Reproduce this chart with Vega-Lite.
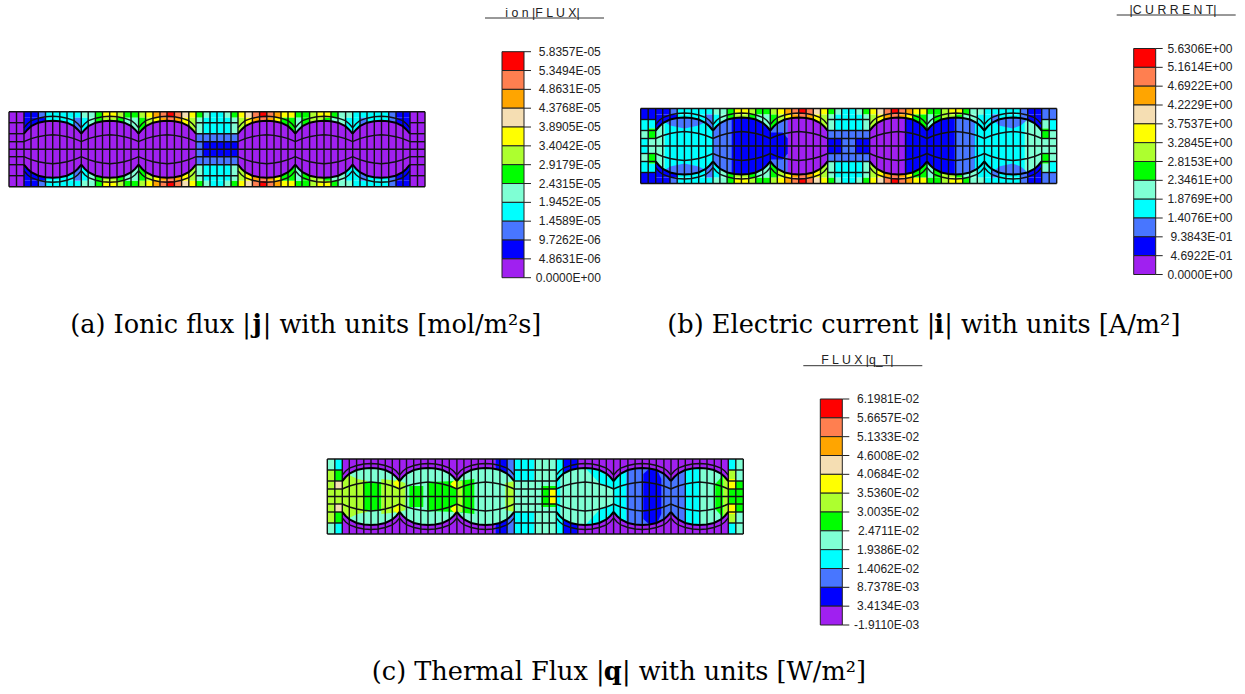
{"$schema":"https://vega.github.io/schema/vega-lite/v6.json","padding":0,"spacing":0,
"config":{"view":{"stroke":null},"axis":{"disable":true},"legend":{"disable":true},"concat":{"spacing":0},"range":{"category":["#a020f0","#0000ff","#4876ff","#00ffff","#7fffd4","#00ff00","#adff2f","#ffff00","#f5deb3","#ffa500","#ff7f50","#ff0000"]}},
"datasets":{
"bases":[{"l":1,"a":0,"b":3,"c":4},{"l":2,"a":0,"b":1,"c":4},{"l":3,"a":0,"b":0,"c":4},{"l":4,"a":0,"b":0,"c":4},{"l":5,"a":0,"b":1,"c":2},{"l":6,"a":0,"b":3,"c":4}],
"boxes":[{"x0":493,"x1":515,"y0":-60,"y1":-41.17,"level":11},{"x0":493,"x1":515,"y0":-41.17,"y1":-22.33,"level":10},{"x0":493,"x1":515,"y0":-22.33,"y1":-3.5,"level":9},{"x0":493,"x1":515,"y0":-3.5,"y1":15.33,"level":8},{"x0":493,"x1":515,"y0":15.33,"y1":34.17,"level":7},{"x0":493,"x1":515,"y0":34.17,"y1":53,"level":6},{"x0":493,"x1":515,"y0":53,"y1":71.83,"level":5},{"x0":493,"x1":515,"y0":71.83,"y1":90.67,"level":4},{"x0":493,"x1":515,"y0":90.67,"y1":109.5,"level":3},{"x0":493,"x1":515,"y0":109.5,"y1":128.33,"level":2},{"x0":493,"x1":515,"y0":128.33,"y1":147.17,"level":1},{"x0":493,"x1":515,"y0":147.17,"y1":166,"level":0}],
"ticks":[{"tx0":515,"tx1":522,"lx":591.8,"y":-60,"a":"5.8357E-05","b":"5.6306E+00","c":"6.1981E-02"},{"tx0":515,"tx1":522,"lx":591.8,"y":-41.17,"a":"5.3494E-05","b":"5.1614E+00","c":"5.6657E-02"},{"tx0":515,"tx1":522,"lx":591.8,"y":-22.33,"a":"4.8631E-05","b":"4.6922E+00","c":"5.1333E-02"},{"tx0":515,"tx1":522,"lx":591.8,"y":-3.5,"a":"4.3768E-05","b":"4.2229E+00","c":"4.6008E-02"},{"tx0":515,"tx1":522,"lx":591.8,"y":15.33,"a":"3.8905E-05","b":"3.7537E+00","c":"4.0684E-02"},{"tx0":515,"tx1":522,"lx":591.8,"y":34.17,"a":"3.4042E-05","b":"3.2845E+00","c":"3.5360E-02"},{"tx0":515,"tx1":522,"lx":591.8,"y":53,"a":"2.9179E-05","b":"2.8153E+00","c":"3.0035E-02"},{"tx0":515,"tx1":522,"lx":591.8,"y":71.83,"a":"2.4315E-05","b":"2.3461E+00","c":"2.4711E-02"},{"tx0":515,"tx1":522,"lx":591.8,"y":90.67,"a":"1.9452E-05","b":"1.8769E+00","c":"1.9386E-02"},{"tx0":515,"tx1":522,"lx":591.8,"y":109.5,"a":"1.4589E-05","b":"1.4076E+00","c":"1.4062E-02"},{"tx0":515,"tx1":522,"lx":591.8,"y":128.33,"a":"9.7262E-06","b":"9.3843E-01","c":"8.7378E-03"},{"tx0":515,"tx1":522,"lx":591.8,"y":147.17,"a":"4.8631E-06","b":"4.6922E-01","c":"3.4134E-03"},{"tx0":515,"tx1":522,"lx":591.8,"y":166,"a":"0.0000E+00","b":"0.0000E+00","c":"-1.9110E-03"}],
"lobes":[
{"l":1,"x":15,"top":22,"bot":53,"it":30,"ib":45,"ot":16,"ob":59},{"l":1,"x":18.4,"top":18,"bot":57,"it":28.5,"ib":46.5,"ot":12,"ob":63},{"l":1,"x":22.2,"top":14.5,"bot":60.5,"it":27,"ib":48,"ot":9,"ob":66},{"l":1,"x":29.3,"top":11,"bot":64,"it":25,"ib":50,"ot":6.5,"ob":68.5},{"l":1,"x":36.5,"top":9.5,"bot":65.5,"it":23.7,"ib":51.3,"ot":5,"ob":70},{"l":1,"x":43.7,"top":9,"bot":66,"it":23,"ib":52,"ot":4.5,"ob":70.5},{"l":1,"x":50.8,"top":9.5,"bot":65.5,"it":23.7,"ib":51.3,"ot":5,"ob":70},{"l":1,"x":58,"top":11,"bot":64,"it":25,"ib":50,"ot":6.5,"ob":68.5},{"l":1,"x":65.1,"top":14.5,"bot":60.5,"it":27,"ib":48,"ot":9,"ob":66},{"l":1,"x":68.9,"top":18,"bot":57,"it":28.5,"ib":46.5,"ot":12,"ob":63},{"l":1,"x":72.3,"top":22,"bot":53,"it":30,"ib":45,"ot":16,"ob":59},
{"l":2,"x":72.3,"top":22,"bot":53,"it":30,"ib":45,"ot":16,"ob":59},{"l":2,"x":75.7,"top":18,"bot":57,"it":28.5,"ib":46.5,"ot":12,"ob":63},{"l":2,"x":79.5,"top":14.5,"bot":60.5,"it":27,"ib":48,"ot":9,"ob":66},{"l":2,"x":86.6,"top":11,"bot":64,"it":25,"ib":50,"ot":6.5,"ob":68.5},{"l":2,"x":93.8,"top":9.5,"bot":65.5,"it":23.7,"ib":51.3,"ot":5,"ob":70},{"l":2,"x":101,"top":9,"bot":66,"it":23,"ib":52,"ot":4.5,"ob":70.5},{"l":2,"x":108.1,"top":9.5,"bot":65.5,"it":23.7,"ib":51.3,"ot":5,"ob":70},{"l":2,"x":115.3,"top":11,"bot":64,"it":25,"ib":50,"ot":6.5,"ob":68.5},{"l":2,"x":122.4,"top":14.5,"bot":60.5,"it":27,"ib":48,"ot":9,"ob":66},{"l":2,"x":126.2,"top":18,"bot":57,"it":28.5,"ib":46.5,"ot":12,"ob":63},{"l":2,"x":129.6,"top":22,"bot":53,"it":30,"ib":45,"ot":16,"ob":59},
{"l":3,"x":129.6,"top":22,"bot":53,"it":30,"ib":45,"ot":16,"ob":59},{"l":3,"x":133,"top":18,"bot":57,"it":28.5,"ib":46.5,"ot":12,"ob":63},{"l":3,"x":136.8,"top":14.5,"bot":60.5,"it":27,"ib":48,"ot":9,"ob":66},{"l":3,"x":143.9,"top":11,"bot":64,"it":25,"ib":50,"ot":6.5,"ob":68.5},{"l":3,"x":151.1,"top":9.5,"bot":65.5,"it":23.7,"ib":51.3,"ot":5,"ob":70},{"l":3,"x":158.3,"top":9,"bot":66,"it":23,"ib":52,"ot":4.5,"ob":70.5},{"l":3,"x":165.4,"top":9.5,"bot":65.5,"it":23.7,"ib":51.3,"ot":5,"ob":70},{"l":3,"x":172.6,"top":11,"bot":64,"it":25,"ib":50,"ot":6.5,"ob":68.5},{"l":3,"x":179.7,"top":14.5,"bot":60.5,"it":27,"ib":48,"ot":9,"ob":66},{"l":3,"x":183.5,"top":18,"bot":57,"it":28.5,"ib":46.5,"ot":12,"ob":63},{"l":3,"x":186.9,"top":22,"bot":53,"it":30,"ib":45,"ot":16,"ob":59},
{"l":4,"x":229,"top":22,"bot":53,"it":30,"ib":45,"ot":16,"ob":59},{"l":4,"x":232.4,"top":18,"bot":57,"it":28.5,"ib":46.5,"ot":12,"ob":63},{"l":4,"x":236.2,"top":14.5,"bot":60.5,"it":27,"ib":48,"ot":9,"ob":66},{"l":4,"x":243.3,"top":11,"bot":64,"it":25,"ib":50,"ot":6.5,"ob":68.5},{"l":4,"x":250.5,"top":9.5,"bot":65.5,"it":23.7,"ib":51.3,"ot":5,"ob":70},{"l":4,"x":257.7,"top":9,"bot":66,"it":23,"ib":52,"ot":4.5,"ob":70.5},{"l":4,"x":264.8,"top":9.5,"bot":65.5,"it":23.7,"ib":51.3,"ot":5,"ob":70},{"l":4,"x":272,"top":11,"bot":64,"it":25,"ib":50,"ot":6.5,"ob":68.5},{"l":4,"x":279.1,"top":14.5,"bot":60.5,"it":27,"ib":48,"ot":9,"ob":66},{"l":4,"x":282.9,"top":18,"bot":57,"it":28.5,"ib":46.5,"ot":12,"ob":63},{"l":4,"x":286.3,"top":22,"bot":53,"it":30,"ib":45,"ot":16,"ob":59},
{"l":5,"x":286.3,"top":22,"bot":53,"it":30,"ib":45,"ot":16,"ob":59},{"l":5,"x":289.7,"top":18,"bot":57,"it":28.5,"ib":46.5,"ot":12,"ob":63},{"l":5,"x":293.5,"top":14.5,"bot":60.5,"it":27,"ib":48,"ot":9,"ob":66},{"l":5,"x":300.6,"top":11,"bot":64,"it":25,"ib":50,"ot":6.5,"ob":68.5},{"l":5,"x":307.8,"top":9.5,"bot":65.5,"it":23.7,"ib":51.3,"ot":5,"ob":70},{"l":5,"x":315,"top":9,"bot":66,"it":23,"ib":52,"ot":4.5,"ob":70.5},{"l":5,"x":322.1,"top":9.5,"bot":65.5,"it":23.7,"ib":51.3,"ot":5,"ob":70},{"l":5,"x":329.3,"top":11,"bot":64,"it":25,"ib":50,"ot":6.5,"ob":68.5},{"l":5,"x":336.4,"top":14.5,"bot":60.5,"it":27,"ib":48,"ot":9,"ob":66},{"l":5,"x":340.2,"top":18,"bot":57,"it":28.5,"ib":46.5,"ot":12,"ob":63},{"l":5,"x":343.6,"top":22,"bot":53,"it":30,"ib":45,"ot":16,"ob":59},
{"l":6,"x":343.6,"top":22,"bot":53,"it":30,"ib":45,"ot":16,"ob":59},{"l":6,"x":347,"top":18,"bot":57,"it":28.5,"ib":46.5,"ot":12,"ob":63},{"l":6,"x":350.8,"top":14.5,"bot":60.5,"it":27,"ib":48,"ot":9,"ob":66},{"l":6,"x":357.9,"top":11,"bot":64,"it":25,"ib":50,"ot":6.5,"ob":68.5},{"l":6,"x":365.1,"top":9.5,"bot":65.5,"it":23.7,"ib":51.3,"ot":5,"ob":70},{"l":6,"x":372.3,"top":9,"bot":66,"it":23,"ib":52,"ot":4.5,"ob":70.5},{"l":6,"x":379.4,"top":9.5,"bot":65.5,"it":23.7,"ib":51.3,"ot":5,"ob":70},{"l":6,"x":386.6,"top":11,"bot":64,"it":25,"ib":50,"ot":6.5,"ob":68.5},{"l":6,"x":393.7,"top":14.5,"bot":60.5,"it":27,"ib":48,"ot":9,"ob":66},{"l":6,"x":397.5,"top":18,"bot":57,"it":28.5,"ib":46.5,"ot":12,"ob":63},{"l":6,"x":400.9,"top":22,"bot":53,"it":30,"ib":45,"ot":16,"ob":59}],
"grid":[{"x":0,"x2":0,"y":0,"y2":75},{"x":7.5,"x2":7.5,"y":0,"y2":75},{"x":15,"x2":15,"y":0,"y2":75},{"x":22,"x2":22,"y":0,"y2":75},{"x":29.3,"x2":29.3,"y":0,"y2":75},{"x":36.5,"x2":36.5,"y":0,"y2":75},{"x":43.7,"x2":43.7,"y":0,"y2":75},{"x":50.8,"x2":50.8,"y":0,"y2":75},{"x":58,"x2":58,"y":0,"y2":75},{"x":65,"x2":65,"y":0,"y2":75},{"x":72.3,"x2":72.3,"y":0,"y2":75},{"x":79.2,"x2":79.2,"y":0,"y2":75},{"x":86.4,"x2":86.4,"y":0,"y2":75},{"x":93.5,"x2":93.5,"y":0,"y2":75},{"x":100.7,"x2":100.7,"y":0,"y2":75},{"x":108,"x2":108,"y":0,"y2":75},{"x":115,"x2":115,"y":0,"y2":75},{"x":122,"x2":122,"y":0,"y2":75},{"x":129.6,"x2":129.6,"y":0,"y2":75},{"x":136.6,"x2":136.6,"y":0,"y2":75},{"x":144,"x2":144,"y":0,"y2":75},{"x":151,"x2":151,"y":0,"y2":75},{"x":158,"x2":158,"y":0,"y2":75},{"x":165.4,"x2":165.4,"y":0,"y2":75},{"x":172.6,"x2":172.6,"y":0,"y2":75},{"x":179.8,"x2":179.8,"y":0,"y2":75},{"x":187,"x2":187,"y":0,"y2":75},{"x":194,"x2":194,"y":0,"y2":75},{"x":201,"x2":201,"y":0,"y2":75},{"x":208,"x2":208,"y":0,"y2":75},{"x":215,"x2":215,"y":0,"y2":75},{"x":222,"x2":222,"y":0,"y2":75},{"x":229,"x2":229,"y":0,"y2":75},{"x":236,"x2":236,"y":0,"y2":75},{"x":243.4,"x2":243.4,"y":0,"y2":75},{"x":250.6,"x2":250.6,"y":0,"y2":75},{"x":257.8,"x2":257.8,"y":0,"y2":75},{"x":265,"x2":265,"y":0,"y2":75},{"x":272,"x2":272,"y":0,"y2":75},{"x":279,"x2":279,"y":0,"y2":75},{"x":286.3,"x2":286.3,"y":0,"y2":75},{"x":293,"x2":293,"y":0,"y2":75},{"x":300.6,"x2":300.6,"y":0,"y2":75},{"x":307.8,"x2":307.8,"y":0,"y2":75},{"x":315,"x2":315,"y":0,"y2":75},{"x":322,"x2":322,"y":0,"y2":75},{"x":329,"x2":329,"y":0,"y2":75},{"x":336.6,"x2":336.6,"y":0,"y2":75},{"x":343.7,"x2":343.7,"y":0,"y2":75},{"x":351,"x2":351,"y":0,"y2":75},{"x":358,"x2":358,"y":0,"y2":75},{"x":365.3,"x2":365.3,"y":0,"y2":75},{"x":372.5,"x2":372.5,"y":0,"y2":75},{"x":379.7,"x2":379.7,"y":0,"y2":75},{"x":387,"x2":387,"y":0,"y2":75},{"x":394,"x2":394,"y":0,"y2":75},{"x":401,"x2":401,"y":0,"y2":75},{"x":408.5,"x2":408.5,"y":0,"y2":75},{"x":416,"x2":416,"y":0,"y2":75},
{"x":0,"x2":416,"y":0,"y2":0},{"x":0,"x2":416,"y":75,"y2":75},{"x":0,"x2":416,"y":37.5,"y2":37.5},
{"x":0,"x2":15,"y":11,"y2":11},{"x":0,"x2":15,"y":22,"y2":22},{"x":0,"x2":15,"y":30,"y2":30},{"x":0,"x2":15,"y":45,"y2":45},{"x":0,"x2":15,"y":53,"y2":53},{"x":0,"x2":15,"y":64,"y2":64},
{"x":187,"x2":229,"y":11,"y2":11},{"x":187,"x2":229,"y":22,"y2":22},{"x":187,"x2":229,"y":30,"y2":30},{"x":187,"x2":229,"y":45,"y2":45},{"x":187,"x2":229,"y":53,"y2":53},{"x":187,"x2":229,"y":64,"y2":64},
{"x":401,"x2":416,"y":11,"y2":11},{"x":401,"x2":416,"y":22,"y2":22},{"x":401,"x2":416,"y":30,"y2":30},{"x":401,"x2":416,"y":45,"y2":45},{"x":401,"x2":416,"y":53,"y2":53},{"x":401,"x2":416,"y":64,"y2":64}],
"field":[
{"p":"ab","x0":15,"x1":29.3,"y0":0,"y1":6,"z0":75,"z1":69,"level":1},{"p":"ab","x0":29.3,"x1":36.5,"y0":0,"y1":6,"z0":75,"z1":69,"level":2},{"p":"ab","x0":36.5,"x1":72.3,"y0":0,"y1":6,"z0":75,"z1":69,"level":3},{"p":"ab","x0":72.3,"x1":86.4,"y0":0,"y1":6,"z0":75,"z1":69,"level":4},{"p":"ab","x0":86.4,"x1":93.5,"y0":0,"y1":6,"z0":75,"z1":69,"level":5},{"p":"ab","x0":93.5,"x1":108,"y0":0,"y1":6,"z0":75,"z1":69,"level":7},{"p":"ab","x0":108,"x1":115,"y0":0,"y1":6,"z0":75,"z1":69,"level":6},{"p":"ab","x0":115,"x1":129.6,"y0":0,"y1":6,"z0":75,"z1":69,"level":5},{"p":"ab","x0":129.6,"x1":136.6,"y0":0,"y1":6,"z0":75,"z1":69,"level":6},{"p":"ab","x0":136.6,"x1":144,"y0":0,"y1":6,"z0":75,"z1":69,"level":7},{"p":"ab","x0":144,"x1":151,"y0":0,"y1":6,"z0":75,"z1":69,"level":9},{"p":"ab","x0":151,"x1":158,"y0":0,"y1":6,"z0":75,"z1":69,"level":10},{"p":"ab","x0":158,"x1":165.4,"y0":0,"y1":6,"z0":75,"z1":69,"level":11},{"p":"ab","x0":165.4,"x1":172.6,"y0":0,"y1":6,"z0":75,"z1":69,"level":10},{"p":"ab","x0":172.6,"x1":179.8,"y0":0,"y1":6,"z0":75,"z1":69,"level":8},{"p":"ab","x0":179.8,"x1":187,"y0":0,"y1":6,"z0":75,"z1":69,"level":7},{"p":"ab","x0":187,"x1":194,"y0":0,"y1":6,"z0":75,"z1":69,"level":5},{"p":"ab","x0":194,"x1":201,"y0":0,"y1":6,"z0":75,"z1":69,"level":4},{"p":"ab","x0":201,"x1":215,"y0":0,"y1":6,"z0":75,"z1":69,"level":3},{"p":"ab","x0":215,"x1":222,"y0":0,"y1":6,"z0":75,"z1":69,"level":4},{"p":"ab","x0":222,"x1":229,"y0":0,"y1":6,"z0":75,"z1":69,"level":5},{"p":"ab","x0":229,"x1":236,"y0":0,"y1":6,"z0":75,"z1":69,"level":7},{"p":"ab","x0":236,"x1":243.4,"y0":0,"y1":6,"z0":75,"z1":69,"level":8},{"p":"ab","x0":243.4,"x1":250.6,"y0":0,"y1":6,"z0":75,"z1":69,"level":10},{"p":"ab","x0":250.6,"x1":257.8,"y0":0,"y1":6,"z0":75,"z1":69,"level":11},{"p":"ab","x0":257.8,"x1":265,"y0":0,"y1":6,"z0":75,"z1":69,"level":10},{"p":"ab","x0":265,"x1":272,"y0":0,"y1":6,"z0":75,"z1":69,"level":9},{"p":"ab","x0":272,"x1":286.3,"y0":0,"y1":6,"z0":75,"z1":69,"level":7},{"p":"ab","x0":286.3,"x1":300.6,"y0":0,"y1":6,"z0":75,"z1":69,"level":5},{"p":"ab","x0":300.6,"x1":307.8,"y0":0,"y1":6,"z0":75,"z1":69,"level":6},{"p":"ab","x0":307.8,"x1":322,"y0":0,"y1":6,"z0":75,"z1":69,"level":7},{"p":"ab","x0":322,"x1":329,"y0":0,"y1":6,"z0":75,"z1":69,"level":5},{"p":"ab","x0":329,"x1":343.7,"y0":0,"y1":6,"z0":75,"z1":69,"level":4},{"p":"ab","x0":343.7,"x1":379.7,"y0":0,"y1":6,"z0":75,"z1":69,"level":3},{"p":"ab","x0":379.7,"x1":387,"y0":0,"y1":6,"z0":75,"z1":69,"level":2},{"p":"ab","x0":387,"x1":401,"y0":0,"y1":6,"z0":75,"z1":69,"level":1},
{"p":"ab","x0":15,"x1":36.5,"y0":6,"y1":22,"z0":69,"z1":53,"level":1},{"p":"ab","x0":36.5,"x1":58,"y0":6,"y1":22,"z0":69,"z1":53,"level":3},{"p":"ab","x0":58,"x1":65,"y0":6,"y1":22,"z0":69,"z1":53,"level":3},{"p":"ab","x0":65,"x1":72.3,"y0":6,"y1":22,"z0":69,"z1":53,"level":2},{"p":"ab","x0":72.3,"x1":79.2,"y0":6,"y1":22,"z0":69,"z1":53,"level":3},{"p":"ab","x0":79.2,"x1":86.4,"y0":6,"y1":22,"z0":69,"z1":53,"level":4},{"p":"ab","x0":86.4,"x1":93.5,"y0":6,"y1":22,"z0":69,"z1":53,"level":5},{"p":"ab","x0":93.5,"x1":108,"y0":6,"y1":22,"z0":69,"z1":53,"level":6},{"p":"ab","x0":108,"x1":115,"y0":6,"y1":22,"z0":69,"z1":53,"level":5},{"p":"ab","x0":115,"x1":129.6,"y0":6,"y1":22,"z0":69,"z1":53,"level":4},{"p":"ab","x0":129.6,"x1":136.6,"y0":6,"y1":22,"z0":69,"z1":53,"level":5},{"p":"ab","x0":136.6,"x1":144,"y0":6,"y1":22,"z0":69,"z1":53,"level":6},{"p":"ab","x0":144,"x1":151,"y0":6,"y1":22,"z0":69,"z1":53,"level":7},{"p":"ab","x0":151,"x1":158,"y0":6,"y1":22,"z0":69,"z1":53,"level":9},{"p":"ab","x0":158,"x1":165.4,"y0":6,"y1":22,"z0":69,"z1":53,"level":10},{"p":"ab","x0":165.4,"x1":172.6,"y0":6,"y1":22,"z0":69,"z1":53,"level":9},{"p":"ab","x0":172.6,"x1":179.8,"y0":6,"y1":22,"z0":69,"z1":53,"level":7},{"p":"ab","x0":179.8,"x1":187,"y0":6,"y1":22,"z0":69,"z1":53,"level":6},{"p":"ab","x0":187,"x1":194,"y0":6,"y1":22,"z0":69,"z1":53,"level":4},{"p":"ab","x0":194,"x1":222,"y0":6,"y1":22,"z0":69,"z1":53,"level":3},{"p":"ab","x0":222,"x1":229,"y0":6,"y1":22,"z0":69,"z1":53,"level":4},{"p":"ab","x0":229,"x1":236,"y0":6,"y1":22,"z0":69,"z1":53,"level":6},{"p":"ab","x0":236,"x1":243.4,"y0":6,"y1":22,"z0":69,"z1":53,"level":7},{"p":"ab","x0":243.4,"x1":250.6,"y0":6,"y1":22,"z0":69,"z1":53,"level":9},{"p":"ab","x0":250.6,"x1":257.8,"y0":6,"y1":22,"z0":69,"z1":53,"level":10},{"p":"ab","x0":257.8,"x1":265,"y0":6,"y1":22,"z0":69,"z1":53,"level":9},{"p":"ab","x0":265,"x1":272,"y0":6,"y1":22,"z0":69,"z1":53,"level":7},{"p":"ab","x0":272,"x1":286.3,"y0":6,"y1":22,"z0":69,"z1":53,"level":5},{"p":"ab","x0":286.3,"x1":293,"y0":6,"y1":22,"z0":69,"z1":53,"level":4},{"p":"ab","x0":293,"x1":300.6,"y0":6,"y1":22,"z0":69,"z1":53,"level":5},{"p":"ab","x0":300.6,"x1":315,"y0":6,"y1":22,"z0":69,"z1":53,"level":6},{"p":"ab","x0":315,"x1":322,"y0":6,"y1":22,"z0":69,"z1":53,"level":5},{"p":"ab","x0":322,"x1":336.6,"y0":6,"y1":22,"z0":69,"z1":53,"level":4},{"p":"ab","x0":336.6,"x1":351,"y0":6,"y1":22,"z0":69,"z1":53,"level":3},{"p":"ab","x0":351,"x1":358,"y0":6,"y1":22,"z0":69,"z1":53,"level":2},{"p":"ab","x0":358,"x1":379.7,"y0":6,"y1":22,"z0":69,"z1":53,"level":3},{"p":"ab","x0":379.7,"x1":387,"y0":6,"y1":22,"z0":69,"z1":53,"level":2},{"p":"ab","x0":387,"x1":401,"y0":6,"y1":22,"z0":69,"z1":53,"level":1},
{"p":"ab","x0":187,"x1":229,"y0":22,"y1":30,"z0":53,"z1":45,"level":2},
{"p":"a","x0":0,"x1":15,"y0":0,"y1":37.5,"z0":75,"z1":37.5,"level":0},{"p":"a","x0":401,"x1":416,"y0":0,"y1":37.5,"z0":75,"z1":37.5,"level":0},{"p":"a","x0":187,"x1":194,"y0":30,"y1":37.5,"z0":45,"z1":37.5,"level":2},{"p":"a","x0":194,"x1":229,"y0":30,"y1":37.5,"z0":45,"z1":37.5,"level":1},
{"p":"b","x0":0,"x1":7.5,"y0":0,"y1":11,"z0":75,"z1":64,"level":1},{"p":"b","x0":0,"x1":7.5,"y0":11,"y1":22,"z0":64,"z1":53,"level":3},{"p":"b","x0":0,"x1":7.5,"y0":22,"y1":30,"z0":53,"z1":45,"level":4},{"p":"b","x0":0,"x1":7.5,"y0":30,"y1":37.5,"z0":45,"z1":37.5,"level":3},{"p":"b","x0":7.5,"x1":15,"y0":0,"y1":11,"z0":75,"z1":64,"level":1},{"p":"b","x0":7.5,"x1":15,"y0":11,"y1":20,"z0":64,"z1":55,"level":3},{"p":"b","x0":7.5,"x1":15,"y0":20,"y1":30,"z0":55,"z1":45,"level":5},{"p":"b","x0":7.5,"x1":15,"y0":30,"y1":37.5,"z0":45,"z1":37.5,"level":4},
{"p":"b","x0":401,"x1":408.5,"y0":0,"y1":11,"z0":75,"z1":64,"level":2},{"p":"b","x0":401,"x1":408.5,"y0":11,"y1":20,"z0":64,"z1":55,"level":4},{"p":"b","x0":401,"x1":408.5,"y0":20,"y1":30,"z0":55,"z1":45,"level":5},{"p":"b","x0":401,"x1":408.5,"y0":30,"y1":37.5,"z0":45,"z1":37.5,"level":4},{"p":"b","x0":408.5,"x1":416,"y0":0,"y1":11,"z0":75,"z1":64,"level":2},{"p":"b","x0":408.5,"x1":416,"y0":11,"y1":22,"z0":64,"z1":53,"level":3},{"p":"b","x0":408.5,"x1":416,"y0":22,"y1":37.5,"z0":53,"z1":37.5,"level":4},
{"p":"b","x0":187,"x1":201,"y0":30,"y1":37.5,"z0":45,"z1":37.5,"level":1},{"p":"b","x0":201,"x1":214,"y0":30,"y1":37.5,"z0":45,"z1":37.5,"level":2},{"p":"b","x0":214,"x1":229,"y0":30,"y1":37.5,"z0":45,"z1":37.5,"level":1},
{"p":"c","x0":0,"x1":7.5,"y0":0,"y1":11,"z0":75,"z1":64,"level":4},{"p":"c","x0":0,"x1":7.5,"y0":11,"y1":37.5,"z0":64,"z1":37.5,"level":6},{"p":"c","x0":7.5,"x1":15,"y0":0,"y1":11,"z0":75,"z1":64,"level":3},{"p":"c","x0":7.5,"x1":15,"y0":11,"y1":22,"z0":64,"z1":53,"level":5},{"p":"c","x0":7.5,"x1":15,"y0":22,"y1":30,"z0":53,"z1":45,"level":8},{"p":"c","x0":7.5,"x1":15,"y0":30,"y1":37.5,"z0":45,"z1":37.5,"level":6},
{"p":"c","x0":15,"x1":168,"y0":0,"y1":22,"z0":75,"z1":53,"level":0},{"p":"c","x0":168,"x1":179.8,"y0":0,"y1":22,"z0":75,"z1":53,"level":1},{"p":"c","x0":179.8,"x1":187,"y0":0,"y1":22,"z0":75,"z1":53,"level":2},{"p":"c","x0":187,"x1":207,"y0":0,"y1":22,"z0":75,"z1":53,"level":3},{"p":"c","x0":187,"x1":207,"y0":22,"y1":37.5,"z0":53,"z1":37.5,"level":4},{"p":"c","x0":207,"x1":229,"y0":0,"y1":37.5,"z0":75,"z1":37.5,"level":4},{"p":"c","x0":214,"x1":229,"y0":27,"y1":37.5,"z0":48,"z1":37.5,"level":5},{"p":"c","x0":222,"x1":229,"y0":30,"y1":37.5,"z0":45,"z1":37.5,"level":7},
{"p":"c","x0":229,"x1":236,"y0":0,"y1":22,"z0":75,"z1":53,"level":3},{"p":"c","x0":236,"x1":251,"y0":0,"y1":22,"z0":75,"z1":53,"level":1},{"p":"c","x0":251,"x1":401,"y0":0,"y1":22,"z0":75,"z1":53,"level":0},
{"p":"c","x0":401,"x1":408.5,"y0":0,"y1":11,"z0":75,"z1":64,"level":3},{"p":"c","x0":401,"x1":408.5,"y0":11,"y1":20,"z0":64,"z1":55,"level":6},{"p":"c","x0":401,"x1":408.5,"y0":20,"y1":30,"z0":55,"z1":45,"level":7},{"p":"c","x0":401,"x1":408.5,"y0":30,"y1":37.5,"z0":45,"z1":37.5,"level":5},{"p":"c","x0":408.5,"x1":416,"y0":0,"y1":22,"z0":75,"z1":53,"level":4},{"p":"c","x0":408.5,"x1":416,"y0":22,"y1":37.5,"z0":53,"z1":37.5,"level":5}],
"blobs":[
{"p":"b","id":"b01","level":4,"x":15,"top":22,"bot":53},{"p":"b","id":"b01","level":4,"x":18.4,"top":18,"bot":57},{"p":"b","id":"b01","level":4,"x":22.2,"top":14.5,"bot":60.5},{"p":"b","id":"b01","level":4,"x":24,"top":13.2,"bot":61.8},
{"p":"b","id":"b02","level":2,"x":24,"top":13.2,"bot":13.2},{"p":"b","id":"b02","level":2,"x":29.3,"top":11,"bot":17},{"p":"b","id":"b02","level":2,"x":43.7,"top":9,"bot":20},{"p":"b","id":"b02","level":2,"x":58,"top":11,"bot":17},{"p":"b","id":"b02","level":2,"x":64,"top":14,"bot":14},
{"p":"b","id":"b03","level":2,"x":24,"top":61.8,"bot":61.8},{"p":"b","id":"b03","level":2,"x":29.3,"top":58,"bot":64},{"p":"b","id":"b03","level":2,"x":43.7,"top":55,"bot":66},{"p":"b","id":"b03","level":2,"x":58,"top":58,"bot":64},{"p":"b","id":"b03","level":2,"x":64,"top":61,"bot":61},
{"p":"b","id":"b04","level":2,"x":72.3,"top":22,"bot":53},{"p":"b","id":"b04","level":2,"x":75.7,"top":18,"bot":57},{"p":"b","id":"b04","level":2,"x":79.5,"top":14.5,"bot":60.5},{"p":"b","id":"b04","level":2,"x":86.6,"top":11,"bot":64},{"p":"b","id":"b04","level":2,"x":91,"top":9.9,"bot":65.1},
{"p":"b","id":"b05","level":2,"x":129.6,"top":22,"bot":53},{"p":"b","id":"b05","level":2,"x":133,"top":18,"bot":57},{"p":"b","id":"b05","level":2,"x":136.8,"top":14.5,"bot":60.5},{"p":"b","id":"b05","level":2,"x":143.9,"top":11,"bot":64},{"p":"b","id":"b05","level":2,"x":147,"top":10,"bot":65},
{"p":"b","id":"b06","level":1,"x":129.6,"top":24,"bot":51},{"p":"b","id":"b06","level":1,"x":142,"top":24,"bot":51},{"p":"b","id":"b06","level":1,"x":147,"top":30,"bot":45},
{"p":"b","id":"b07","level":1,"x":264,"top":9.5,"bot":65.5},{"p":"b","id":"b07","level":1,"x":271,"top":10.8,"bot":64.2},{"p":"b","id":"b07","level":1,"x":279.1,"top":14.5,"bot":60.5},{"p":"b","id":"b07","level":1,"x":282.9,"top":18,"bot":57},{"p":"b","id":"b07","level":1,"x":286.3,"top":22,"bot":53},
{"p":"b","id":"b08","level":2,"x":314,"top":9,"bot":66},{"p":"b","id":"b08","level":2,"x":329.3,"top":11,"bot":64},{"p":"b","id":"b08","level":2,"x":334,"top":13,"bot":62},
{"p":"b","id":"b09","level":3,"x":334,"top":13,"bot":62},{"p":"b","id":"b09","level":3,"x":336.4,"top":14.5,"bot":60.5},{"p":"b","id":"b09","level":3,"x":340.2,"top":18,"bot":57},{"p":"b","id":"b09","level":3,"x":343.6,"top":22,"bot":53},
{"p":"b","id":"b10","level":4,"x":384,"top":10,"bot":65},{"p":"b","id":"b10","level":4,"x":393.7,"top":14.5,"bot":60.5},{"p":"b","id":"b10","level":4,"x":397.5,"top":18,"bot":57},{"p":"b","id":"b10","level":4,"x":400.9,"top":22,"bot":53},
{"p":"b","id":"b11","level":2,"x":354,"top":12.5,"bot":12.5},{"p":"b","id":"b11","level":2,"x":358,"top":11,"bot":17},{"p":"b","id":"b11","level":2,"x":372,"top":9,"bot":20},{"p":"b","id":"b11","level":2,"x":380,"top":10,"bot":17},{"p":"b","id":"b11","level":2,"x":386,"top":12,"bot":12},
{"p":"b","id":"b12","level":2,"x":354,"top":62.5,"bot":62.5},{"p":"b","id":"b12","level":2,"x":358,"top":58,"bot":64},{"p":"b","id":"b12","level":2,"x":372,"top":55,"bot":66},{"p":"b","id":"b12","level":2,"x":380,"top":58,"bot":65},{"p":"b","id":"b12","level":2,"x":386,"top":63,"bot":63},
{"p":"c","id":"c01","level":6,"x":15,"top":22,"bot":53},{"p":"c","id":"c01","level":6,"x":22,"top":16,"bot":59},{"p":"c","id":"c01","level":6,"x":30,"top":20,"bot":55},{"p":"c","id":"c01","level":6,"x":40,"top":22,"bot":53},
{"p":"c","id":"c02","level":5,"x":36,"top":23,"bot":52},{"p":"c","id":"c02","level":5,"x":54,"top":23,"bot":52},
{"p":"c","id":"c03","level":6,"x":54,"top":20,"bot":55},{"p":"c","id":"c03","level":6,"x":72.3,"top":22,"bot":53},
{"p":"c","id":"c04","level":7,"x":66,"top":24,"bot":24},{"p":"c","id":"c04","level":7,"x":72.2,"top":19,"bot":31},
{"p":"c","id":"c05","level":7,"x":66,"top":51,"bot":51},{"p":"c","id":"c05","level":7,"x":72.2,"top":44,"bot":56},
{"p":"c","id":"c06","level":5,"x":82,"top":27,"bot":48},{"p":"c","id":"c06","level":5,"x":96,"top":27,"bot":48},
{"p":"c","id":"c07","level":5,"x":100,"top":23,"bot":52},{"p":"c","id":"c07","level":5,"x":129.6,"top":22,"bot":53},
{"p":"c","id":"c08","level":6,"x":72.3,"top":22,"bot":53},{"p":"c","id":"c08","level":6,"x":78,"top":24,"bot":51},
{"p":"c","id":"c09","level":7,"x":123,"top":25,"bot":25},{"p":"c","id":"c09","level":7,"x":129.5,"top":19,"bot":31},
{"p":"c","id":"c10","level":7,"x":123,"top":50,"bot":50},{"p":"c","id":"c10","level":7,"x":129.5,"top":44,"bot":56},
{"p":"c","id":"c11","level":5,"x":129.6,"top":22,"bot":53},{"p":"c","id":"c11","level":5,"x":147,"top":20,"bot":55},
{"p":"c","id":"c12","level":6,"x":129.6,"top":22,"bot":53},{"p":"c","id":"c12","level":6,"x":135,"top":22,"bot":53},
{"p":"c","id":"c13","level":6,"x":178,"top":24,"bot":51},{"p":"c","id":"c13","level":6,"x":186.9,"top":22,"bot":53},
{"p":"c","id":"c14","level":3,"x":229,"top":22,"bot":53},{"p":"c","id":"c14","level":3,"x":233,"top":18,"bot":57},
{"p":"c","id":"c15","level":3,"x":259,"top":9,"bot":10},{"p":"c","id":"c15","level":3,"x":272,"top":11,"bot":24},{"p":"c","id":"c15","level":3,"x":286.3,"top":22,"bot":30},
{"p":"c","id":"c16","level":3,"x":259,"top":65,"bot":66},{"p":"c","id":"c16","level":3,"x":272,"top":51,"bot":64},{"p":"c","id":"c16","level":3,"x":286.3,"top":45,"bot":53},
{"p":"c","id":"c17","level":1,"x":316,"top":15,"bot":60},{"p":"c","id":"c17","level":1,"x":322,"top":9.5,"bot":65.5},{"p":"c","id":"c17","level":1,"x":330,"top":11,"bot":64},{"p":"c","id":"c17","level":1,"x":334,"top":20,"bot":55},
{"p":"c","id":"c18","level":3,"x":286.3,"top":22,"bot":53},{"p":"c","id":"c18","level":3,"x":289.7,"top":18,"bot":57},{"p":"c","id":"c18","level":3,"x":293.5,"top":14.5,"bot":60.5},{"p":"c","id":"c18","level":3,"x":299,"top":11.5,"bot":63.5},
{"p":"c","id":"c19","level":2,"x":343.6,"top":22,"bot":53},{"p":"c","id":"c19","level":2,"x":347,"top":18,"bot":57},{"p":"c","id":"c19","level":2,"x":350.8,"top":14.5,"bot":60.5},{"p":"c","id":"c19","level":2,"x":358,"top":11,"bot":64},
{"p":"c","id":"c20","level":3,"x":358,"top":11,"bot":64},{"p":"c","id":"c20","level":3,"x":372,"top":9,"bot":66},
{"p":"c","id":"c21","level":5,"x":388,"top":25,"bot":50},{"p":"c","id":"c21","level":5,"x":396,"top":16,"bot":59},
{"p":"c","id":"c22","level":6,"x":396,"top":16,"bot":59},{"p":"c","id":"c22","level":6,"x":400.9,"top":22,"bot":53}]
},
"vconcat":[{"spacing":0,"hconcat":[
{"width":622,"height":345,"layer":[
{"data":{"name":"field"},"transform":[{"filter":{"field":"p","oneOf":["ab","a"]}}],"mark":"rect","encoding":{"x":{"field":"x0","type":"quantitative","scale":{"domain":[-9,613],"nice":false}},"x2":{"field":"x1"},"y":{"field":"y0","type":"quantitative","scale":{"domain":[233.3,-111.7],"nice":false}},"y2":{"field":"y1"},"color":{"field":"level","type":"nominal"}}},
{"data":{"name":"field"},"transform":[{"filter":{"field":"p","oneOf":["ab","a"]}}],"mark":"rect","encoding":{"x":{"field":"x0","type":"quantitative"},"x2":{"field":"x1"},"y":{"field":"z0","type":"quantitative"},"y2":{"field":"z1"},"color":{"field":"level","type":"nominal"}}},
{"data":{"name":"lobes"},"transform":[{"lookup":"l","from":{"data":{"name":"bases"},"key":"l","fields":["a"]}}],"mark":"area","encoding":{"x":{"field":"x","type":"quantitative"},"y":{"field":"top","type":"quantitative"},"y2":{"field":"bot"},"detail":{"field":"l"},"color":{"field":"a","type":"nominal"}}},
{"data":{"name":"grid"},"mark":{"type":"rule","color":"#111","strokeWidth":1.4},"encoding":{"x":{"field":"x","type":"quantitative"},"x2":{"field":"x2"},"y":{"field":"y","type":"quantitative"},"y2":{"field":"y2"}}},
{"data":{"name":"lobes"},"transform":[{"fold":["it","ib","ot","ob"]}],"mark":{"type":"line","color":"#111","strokeWidth":1.4},"encoding":{"x":{"field":"x","type":"quantitative"},"y":{"field":"value","type":"quantitative"},"detail":[{"field":"l"},{"field":"key"}]}},
{"data":{"name":"lobes"},"transform":[{"fold":["top","bot"]}],"mark":{"type":"line","color":"#000","strokeWidth":2},"encoding":{"x":{"field":"x","type":"quantitative"},"y":{"field":"value","type":"quantitative"},"detail":[{"field":"l"},{"field":"key"}]}},
{"data":{"name":"boxes"},"mark":{"type":"rect","stroke":"#222","strokeWidth":1},"encoding":{"x":{"field":"x0","type":"quantitative"},"x2":{"field":"x1"},"y":{"field":"y0","type":"quantitative"},"y2":{"field":"y1"},"color":{"field":"level","type":"nominal"}}},
{"data":{"name":"ticks"},"mark":{"type":"rule","color":"#222","strokeWidth":1},"encoding":{"x":{"field":"tx0","type":"quantitative"},"x2":{"field":"tx1"},"y":{"field":"y","type":"quantitative"}}},
{"data":{"name":"ticks"},"mark":{"type":"text","align":"right","baseline":"middle","font":"Liberation Sans","fontSize":12,"color":"#222"},"encoding":{"x":{"field":"lx","type":"quantitative"},"y":{"field":"y","type":"quantitative"},"text":{"field":"a"}}},
{"data":{"values":[{"x":476,"x2":595,"y":-93.7}]},"mark":{"type":"rule","color":"#333","strokeWidth":1},"encoding":{"x":{"field":"x","type":"quantitative"},"x2":{"field":"x2"},"y":{"field":"y","type":"quantitative"}}},
{"data":{"values":[{"x":533.5,"y":-98.5,"t":"i o n  |F L U X|"}]},"mark":{"type":"text","font":"Liberation Sans","fontSize":12.3,"color":"#222"},"encoding":{"x":{"field":"x","type":"quantitative"},"y":{"field":"y","type":"quantitative"},"text":{"field":"t"}}},
{"data":{"values":[{"x":242,"y":221.5,"t":"(a) Ionic flux |"}]},"mark":{"type":"text","align":"right","baseline":"alphabetic","font":"DejaVu Serif","fontSize":25.6,"color":"#000"},"encoding":{"x":{"field":"x","type":"quantitative"},"y":{"field":"y","type":"quantitative"},"text":{"field":"t"}}},
{"data":{"values":[{"x":248,"y":221.5,"t":"j"}]},"mark":{"type":"text","align":"center","baseline":"alphabetic","font":"DejaVu Serif","fontWeight":"bold","fontSize":25.6,"color":"#000"},"encoding":{"x":{"field":"x","type":"quantitative"},"y":{"field":"y","type":"quantitative"},"text":{"field":"t"}}},
{"data":{"values":[{"x":253.7,"y":221.5,"t":"| with units [mol/m²s]"}]},"mark":{"type":"text","align":"left","baseline":"alphabetic","font":"DejaVu Serif","fontSize":25.6,"color":"#000"},"encoding":{"x":{"field":"x","type":"quantitative"},"y":{"field":"y","type":"quantitative"},"text":{"field":"t"}}}
]},
{"width":622,"height":345,"layer":[
{"data":{"name":"field"},"transform":[{"filter":{"field":"p","oneOf":["ab","b"]}}],"mark":"rect","encoding":{"x":{"field":"x0","type":"quantitative","scale":{"domain":[-18.7,603.3],"nice":false}},"x2":{"field":"x1"},"y":{"field":"y0","type":"quantitative","scale":{"domain":[236.5,-108.5],"nice":false}},"y2":{"field":"y1"},"color":{"field":"level","type":"nominal"}}},
{"data":{"name":"field"},"transform":[{"filter":{"field":"p","oneOf":["ab","b"]}}],"mark":"rect","encoding":{"x":{"field":"x0","type":"quantitative"},"x2":{"field":"x1"},"y":{"field":"z0","type":"quantitative"},"y2":{"field":"z1"},"color":{"field":"level","type":"nominal"}}},
{"data":{"name":"lobes"},"transform":[{"lookup":"l","from":{"data":{"name":"bases"},"key":"l","fields":["b"]}}],"mark":"area","encoding":{"x":{"field":"x","type":"quantitative"},"y":{"field":"top","type":"quantitative"},"y2":{"field":"bot"},"detail":{"field":"l"},"color":{"field":"b","type":"nominal"}}},
{"data":{"name":"blobs"},"transform":[{"filter":{"field":"p","equal":"b"}}],"mark":"area","encoding":{"x":{"field":"x","type":"quantitative"},"y":{"field":"top","type":"quantitative"},"y2":{"field":"bot"},"detail":{"field":"id"},"color":{"field":"level","type":"nominal"}}},
{"data":{"name":"grid"},"mark":{"type":"rule","color":"#111","strokeWidth":1.4},"encoding":{"x":{"field":"x","type":"quantitative"},"x2":{"field":"x2"},"y":{"field":"y","type":"quantitative"},"y2":{"field":"y2"}}},
{"data":{"name":"lobes"},"transform":[{"fold":["it","ib","ot","ob"]}],"mark":{"type":"line","color":"#111","strokeWidth":1.4},"encoding":{"x":{"field":"x","type":"quantitative"},"y":{"field":"value","type":"quantitative"},"detail":[{"field":"l"},{"field":"key"}]}},
{"data":{"name":"lobes"},"transform":[{"fold":["top","bot"]}],"mark":{"type":"line","color":"#000","strokeWidth":2},"encoding":{"x":{"field":"x","type":"quantitative"},"y":{"field":"value","type":"quantitative"},"detail":[{"field":"l"},{"field":"key"}]}},
{"data":{"name":"boxes"},"mark":{"type":"rect","stroke":"#222","strokeWidth":1},"encoding":{"x":{"field":"x0","type":"quantitative"},"x2":{"field":"x1"},"y":{"field":"y0","type":"quantitative"},"y2":{"field":"y1"},"color":{"field":"level","type":"nominal"}}},
{"data":{"name":"ticks"},"mark":{"type":"rule","color":"#222","strokeWidth":1},"encoding":{"x":{"field":"tx0","type":"quantitative"},"x2":{"field":"tx1"},"y":{"field":"y","type":"quantitative"}}},
{"data":{"name":"ticks"},"mark":{"type":"text","align":"right","baseline":"middle","font":"Liberation Sans","fontSize":12,"color":"#222"},"encoding":{"x":{"field":"lx","type":"quantitative"},"y":{"field":"y","type":"quantitative"},"text":{"field":"b"}}},
{"data":{"values":[{"x":476,"x2":595,"y":-93.5}]},"mark":{"type":"rule","color":"#333","strokeWidth":1},"encoding":{"x":{"field":"x","type":"quantitative"},"x2":{"field":"x2"},"y":{"field":"y","type":"quantitative"}}},
{"data":{"values":[{"x":532.3,"y":-98.5,"t":"|C U R R E N T|"}]},"mark":{"type":"text","font":"Liberation Sans","fontSize":12.3,"color":"#222"},"encoding":{"x":{"field":"x","type":"quantitative"},"y":{"field":"y","type":"quantitative"},"text":{"field":"t"}}},
{"data":{"values":[{"x":294.6,"y":224,"t":"(b) Electric current |"}]},"mark":{"type":"text","align":"right","baseline":"alphabetic","font":"DejaVu Serif","fontSize":25.6,"color":"#000"},"encoding":{"x":{"field":"x","type":"quantitative"},"y":{"field":"y","type":"quantitative"},"text":{"field":"t"}}},
{"data":{"values":[{"x":298.5,"y":224,"t":"i"}]},"mark":{"type":"text","align":"center","baseline":"alphabetic","font":"DejaVu Serif","fontWeight":"bold","fontSize":25.6,"color":"#000"},"encoding":{"x":{"field":"x","type":"quantitative"},"y":{"field":"y","type":"quantitative"},"text":{"field":"t"}}},
{"data":{"values":[{"x":303.6,"y":224,"t":"| with units [A/m²]"}]},"mark":{"type":"text","align":"left","baseline":"alphabetic","font":"DejaVu Serif","fontSize":25.6,"color":"#000"},"encoding":{"x":{"field":"x","type":"quantitative"},"y":{"field":"y","type":"quantitative"},"text":{"field":"t"}}}
]}]},
{"width":1245,"height":349,"layer":[
{"data":{"name":"field"},"transform":[{"filter":{"field":"p","equal":"c"}}],"mark":"rect","encoding":{"x":{"field":"x0","type":"quantitative","scale":{"domain":[-327.3,917.7],"nice":false}},"x2":{"field":"x1"},"y":{"field":"y0","type":"quantitative","scale":{"domain":[235,-114],"nice":false}},"y2":{"field":"y1"},"color":{"field":"level","type":"nominal"}}},
{"data":{"name":"field"},"transform":[{"filter":{"field":"p","equal":"c"}}],"mark":"rect","encoding":{"x":{"field":"x0","type":"quantitative"},"x2":{"field":"x1"},"y":{"field":"z0","type":"quantitative"},"y2":{"field":"z1"},"color":{"field":"level","type":"nominal"}}},
{"data":{"name":"lobes"},"transform":[{"lookup":"l","from":{"data":{"name":"bases"},"key":"l","fields":["c"]}}],"mark":"area","encoding":{"x":{"field":"x","type":"quantitative"},"y":{"field":"top","type":"quantitative"},"y2":{"field":"bot"},"detail":{"field":"l"},"color":{"field":"c","type":"nominal"}}},
{"data":{"name":"blobs"},"transform":[{"filter":{"field":"p","equal":"c"}}],"mark":"area","encoding":{"x":{"field":"x","type":"quantitative"},"y":{"field":"top","type":"quantitative"},"y2":{"field":"bot"},"detail":{"field":"id"},"color":{"field":"level","type":"nominal"}}},
{"data":{"name":"grid"},"mark":{"type":"rule","color":"#111","strokeWidth":1.4},"encoding":{"x":{"field":"x","type":"quantitative"},"x2":{"field":"x2"},"y":{"field":"y","type":"quantitative"},"y2":{"field":"y2"}}},
{"data":{"name":"lobes"},"transform":[{"fold":["it","ib","ot","ob"]}],"mark":{"type":"line","color":"#111","strokeWidth":1.4},"encoding":{"x":{"field":"x","type":"quantitative"},"y":{"field":"value","type":"quantitative"},"detail":[{"field":"l"},{"field":"key"}]}},
{"data":{"name":"lobes"},"transform":[{"fold":["top","bot"]}],"mark":{"type":"line","color":"#000","strokeWidth":2},"encoding":{"x":{"field":"x","type":"quantitative"},"y":{"field":"value","type":"quantitative"},"detail":[{"field":"l"},{"field":"key"}]}},
{"data":{"name":"boxes"},"mark":{"type":"rect","stroke":"#222","strokeWidth":1},"encoding":{"x":{"field":"x0","type":"quantitative"},"x2":{"field":"x1"},"y":{"field":"y0","type":"quantitative"},"y2":{"field":"y1"},"color":{"field":"level","type":"nominal"}}},
{"data":{"name":"ticks"},"mark":{"type":"rule","color":"#222","strokeWidth":1},"encoding":{"x":{"field":"tx0","type":"quantitative"},"x2":{"field":"tx1"},"y":{"field":"y","type":"quantitative"}}},
{"data":{"name":"ticks"},"mark":{"type":"text","align":"right","baseline":"middle","font":"Liberation Sans","fontSize":12,"color":"#222"},"encoding":{"x":{"field":"lx","type":"quantitative"},"y":{"field":"y","type":"quantitative"},"text":{"field":"c"}}},
{"data":{"values":[{"x":476,"x2":595,"y":-93.3}]},"mark":{"type":"rule","color":"#333","strokeWidth":1},"encoding":{"x":{"field":"x","type":"quantitative"},"x2":{"field":"x2"},"y":{"field":"y","type":"quantitative"}}},
{"data":{"values":[{"x":530,"y":-99,"t":"F L U X  |q_T|"}]},"mark":{"type":"text","font":"Liberation Sans","fontSize":12.3,"color":"#222"},"encoding":{"x":{"field":"x","type":"quantitative"},"y":{"field":"y","type":"quantitative"},"text":{"field":"t"}}},
{"data":{"values":[{"x":277.4,"y":220.5,"t":"(c) Thermal Flux |"}]},"mark":{"type":"text","align":"right","baseline":"alphabetic","font":"DejaVu Serif","fontSize":25.6,"color":"#000"},"encoding":{"x":{"field":"x","type":"quantitative"},"y":{"field":"y","type":"quantitative"},"text":{"field":"t"}}},
{"data":{"values":[{"x":285.5,"y":220.5,"t":"q"}]},"mark":{"type":"text","align":"center","baseline":"alphabetic","font":"DejaVu Serif","fontWeight":"bold","fontSize":25.6,"color":"#000"},"encoding":{"x":{"field":"x","type":"quantitative"},"y":{"field":"y","type":"quantitative"},"text":{"field":"t"}}},
{"data":{"values":[{"x":294.7,"y":220.5,"t":"| with units [W/m²]"}]},"mark":{"type":"text","align":"left","baseline":"alphabetic","font":"DejaVu Serif","fontSize":25.6,"color":"#000"},"encoding":{"x":{"field":"x","type":"quantitative"},"y":{"field":"y","type":"quantitative"},"text":{"field":"t"}}}
]}]}
